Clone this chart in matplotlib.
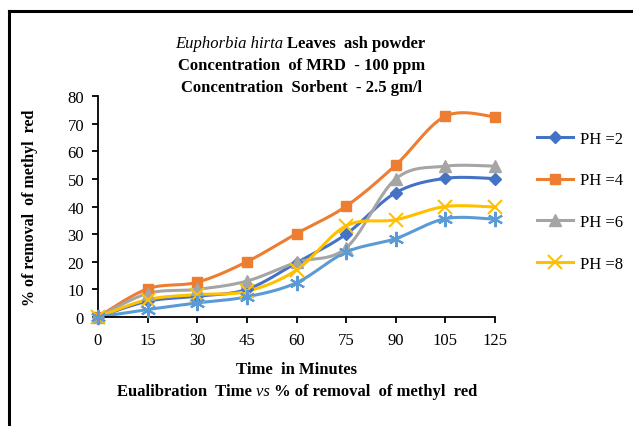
import numpy as np
import matplotlib
matplotlib.use("Agg")
import matplotlib.pyplot as plt
from matplotlib.lines import Line2D

# ---- data ----
time_labels = ["0", "15", "30", "45", "60", "75", "90", "105", "125"]
ph2 = [0, 5.7, 7.5, 10, 19.6, 30, 45, 50.2, 50.1]
ph4 = [0, 10.2, 12.6, 20, 30.2, 40.1, 55, 72.7, 72.5]
ph6 = [0, 8.5, 10, 13, 19.8, 25, 50, 54.6, 54.6]
ph8 = [0, 6.3, 8.1, 9.3, 17, 33, 35.2, 40, 39.8]
ph10 = [0, 2.7, 5.1, 7.3, 12.4, 23.5, 28.4, 35.6, 35.4]

series = [
    ("PH =2", ph2, "#4472C4", "D", 6.5, True),
    ("PH =4", ph4, "#ED7D31", "s", 7.5, True),
    ("PH =6", ph6, "#A5A5A5", "^", 8, True),
    ("PH =8", ph8, "#FFC000", "x", 10, True),
    ("PH =10", ph10, "#5B9BD5", (6, 2, 0), 11, False),
]

W, H = 633, 427
fig = plt.figure(figsize=(W / 100, H / 100), dpi=100)
plt.rcParams['font.family'] = ['Liberation Serif', 'DejaVu Serif']

ax = fig.add_axes([98 / W, 1 - 318 / H, (495 - 98) / W, (318 - 97) / H])
x = np.arange(len(time_labels))

sx, sy = 49.75, 2.75  # pixel scale for smoothing


def smooth(xs, ys, n=30):
    P = np.column_stack([np.asarray(xs, float) * sx, np.asarray(ys, float) * sy])
    out = [P[0]]
    m = len(P)
    for i in range(m - 1):
        p0 = P[i - 1] if i > 0 else P[i]
        p1 = P[i]
        p2 = P[i + 1]
        p3 = P[i + 2] if i + 2 < m else P[i + 1]
        c1 = p1 + (p2 - p0) / 6
        c2 = p2 - (p3 - p1) / 6
        t = np.linspace(0, 1, n)[1:, None]
        B = ((1 - t) ** 3) * p1 + 3 * ((1 - t) ** 2) * t * c1 + 3 * (1 - t) * t ** 2 * c2 + t ** 3 * p2
        out.extend(B)
    out = np.array(out)
    return out[:, 0] / sx, out[:, 1] / sy


handles = []
for name, vals, col, mk, ms, show in series:
    cx, cy = smooth(x, vals)
    ax.plot(cx, cy, color=col, lw=2.2, zorder=2, clip_on=False)
    ax.plot(x, vals, linestyle="none", marker=mk, ms=ms, color=col,
            mec=col, mew=1.5 if mk in ("x", (6, 2, 0)) else 1, zorder=3, clip_on=False)
    if show:
        handles.append(Line2D([], [], color=col, lw=2.2, marker=mk, ms=ms,
                              mew=1.5 if mk in ("x", (6, 2, 0)) else 1, label=name))

ax.set_xlim(0, len(time_labels) - 1)
ax.set_ylim(0, 80)
ax.set_xticks(x)
ax.set_xticklabels(time_labels)
ax.set_yticks(np.arange(0, 81, 10))
for s in ("top", "right"):
    ax.spines[s].set_visible(False)
for s in ("left", "bottom"):
    ax.spines[s].set_color("black")
    ax.spines[s].set_linewidth(1.3)
ax.tick_params(axis="both", direction="out", length=4, width=1.3, labelsize=12,
               colors="black", pad=7)
ax.tick_params(axis="y", pad=6)

ax.set_ylabel("% of removal  of methyl  red", fontsize=11.5, fontweight="bold")
ax.yaxis.set_label_coords(-60 / (495 - 98), 0.5)

renderer = fig.canvas.get_renderer()


def mixed_line(cx_px, cy_px, segments, size=12):
    """segments: list of (text, style dict); centered at cx_px (pixels from left)."""
    texts = []
    widths = []
    for s, kw in segments:
        t = fig.text(0, 1 - cy_px / H, s, fontsize=size, ha="left", va="center", **kw)
        bb = t.get_window_extent(renderer=renderer)
        texts.append(t)
        widths.append(bb.width)
    total = sum(widths)
    xpos = cx_px - total / 2
    for t, w in zip(texts, widths):
        t.set_x(xpos / W)
        xpos += w


B = dict(fontweight="bold")
I = dict(style="italic")
mixed_line(300, 44, [("Euphorbia hirta ", I), ("Leaves  ash powder", B)])
mixed_line(302, 66, [("Concentration  of MRD  - 100 ppm", B)])
mixed_line(302, 88, [("Concentration  Sorbent  - 2.5 gm/l", B)])
mixed_line(296, 370, [("Time  in Minutes", B)])
mixed_line(297, 392, [("Eualibration  Time ", B), ("vs ", I), ("% of removal  of methyl  red", B)])

leg = fig.legend(handles=handles, loc="upper left", bbox_to_anchor=(530 / W, 1 - 125 / H),
                 frameon=False, fontsize=12, handlelength=2.2, labelspacing=1.54,
                 handletextpad=0.4, borderaxespad=0)

# outer frame (partially visible)
fig.add_artist(Line2D([8.5 / W, 8.5 / W], [0, 1 - 12 / H], transform=fig.transFigure,
                      color="black", lw=2.2))
fig.add_artist(Line2D([8.5 / W, 1], [1 - 12 / H, 1 - 12 / H], transform=fig.transFigure,
                      color="black", lw=2.2))

fig.savefig("out.png", dpi=100)
